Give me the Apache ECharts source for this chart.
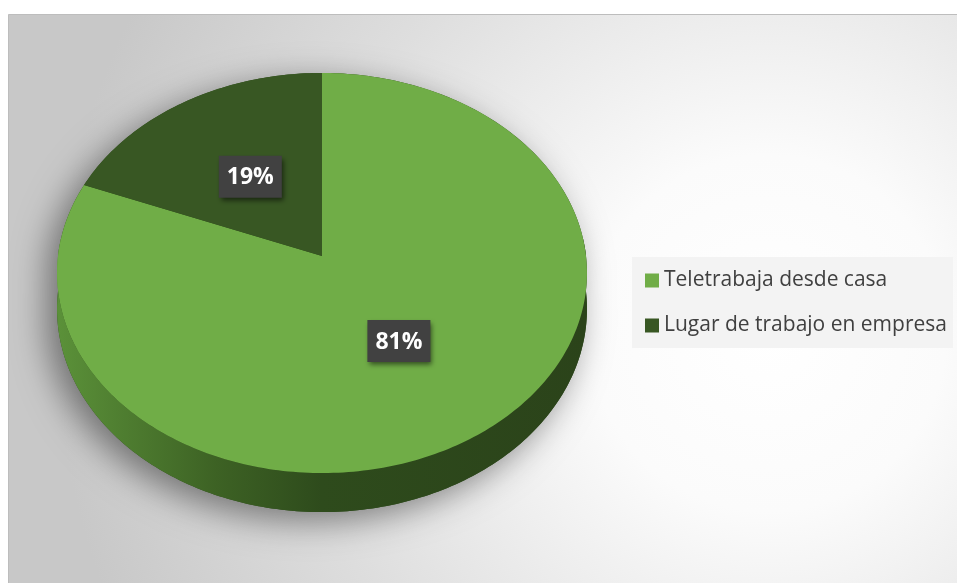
<!DOCTYPE html>
<html>
<head>
<meta charset="utf-8">
<script src="https://cdn.jsdelivr.net/npm/echarts@6/dist/echarts.min.js"></script>
<style>html,body{margin:0;padding:0;background:#fff}#c{width:957px;height:583px}</style>
</head>
<body>
<div id="c"></div>
<script>
// ---- data ----
const categories = ['Teletrabaja desde casa', 'Lugar de trabajo en empresa'];
const values = [81, 19];
const colors = ['#70AD47', '#385723'];

// ---- pseudo-3D projection ----
const CX = 322, CY = 256, RX = 264, RY = 198.6, PB = 0.085, DEPTH = 35.7;
const D2R = Math.PI / 180;
function proj(r, deg, h) {
  const phi = deg * D2R;
  const u = r * Math.cos(phi), v = r * Math.sin(phi);
  const d = 1 + PB * v;
  return [CX + RX * u / d, CY + (-RY * v + (h || 0)) / d];
}
function arc(a0, a1, h) {
  const pts = [];
  const n = Math.max(2, Math.ceil(Math.abs(a1 - a0)));
  for (let k = 0; k <= n; k++) pts.push(proj(1, a0 + (a1 - a0) * k / n, h));
  return pts;
}
const total = values.reduce((s, v) => s + v, 0);
function sliceRange(i) {
  let cum = 0;
  for (let k = 0; k < i; k++) cum += values[k];
  const start = 90 - 360 * cum / total;
  const end = start - 360 * values[i] / total;
  return [end, start];
}

function makeRender(i) {
  return function (params, api) {
    const val = api.value(0);
    const [lo, hi] = sliceRange(i);
    const children = [];
    // shadow silhouette (drawn once, by first series)
    if (i === 0) {
      const sil = arc(-180, 0, DEPTH).concat(arc(0, 180, 0));
      children.push({
        type: 'polygon', z2: 0, shape: { points: sil },
        style: { fill: '#2e4b1c', shadowBlur: 34, shadowColor: 'rgba(0,0,0,0.45)', shadowOffsetX: -10, shadowOffsetY: 9 }
      });
    }
    // side wall (front half)
    for (const off of [0, -360, 360]) {
      const a = Math.max(lo + off, -185), b = Math.min(hi + off, 5);
      if (b > a) {
        const pts = arc(b, a, 0).concat(arc(a, b, DEPTH));
        children.push({
          type: 'polygon', z2: 5, shape: { points: pts },
          style: {
            fill: {
              type: 'linear', x: 0, y: 0, x2: 1, y2: 0,
              colorStops: [
                { offset: 0, color: '#5b9139' },
                { offset: 0.3, color: '#3d6224' },
                { offset: 0.5, color: '#2e4b1c' },
                { offset: 1, color: '#2b431a' }
              ]
            }
          }
        });
      }
    }
    // top face
    const top = [proj(0, 0, 0)].concat(arc(hi, lo, 0));
    children.push({
      type: 'polygon', z2: 10, shape: { points: top },
      style: { fill: colors[i] }
    });
    // label
    const mid = (lo + hi) / 2;
    const p = proj(0.5, mid, 0);
    const w = 63, h = 42;
    children.push({
      type: 'rect', z2: 20,
      shape: { x: p[0] - w / 2, y: p[1] - h / 2, width: w, height: h },
      style: { fill: '#414141', shadowBlur: 5, shadowColor: 'rgba(0,0,0,0.55)', shadowOffsetX: 2, shadowOffsetY: 3 }
    });
    children.push({
      type: 'text', z2: 21,
      style: {
        text: Math.round(val / total * 100) + '%',
        x: p[0], y: p[1] + 1,
        fill: '#ffffff', font: 'bold 23px "Open Sans"',
        textAlign: 'center', textVerticalAlign: 'middle'
      }
    });
    return { type: 'group', children };
  };
}

const chart = echarts.init(document.getElementById('c'));
chart.setOption({
  animation: false,
  graphic: [{
    type: 'rect', z: -10, silent: true,
    shape: { x: 8.5, y: 14.5, width: 949, height: 569 },
    style: {
      fill: {
        type: 'radial', x: 0.8, y: 0.56, r: 1.25,
        colorStops: [
          { offset: 0, color: '#ffffff' },
          { offset: 0.25, color: '#fbfbfb' },
          { offset: 0.65, color: '#dedede' },
          { offset: 1, color: '#c8c8c8' }
        ]
      },
      stroke: '#bdbdbd', lineWidth: 1
    }
  }],
  legend: {
    orient: 'vertical',
    left: 632, top: 257,
    data: categories,
    icon: 'rect',
    itemWidth: 14, itemHeight: 14,
    itemGap: 24,
    padding: [13, 6, 12, 13],
    backgroundColor: '#f3f3f3',
    textStyle: { fontFamily: 'Open Sans', fontSize: 21, color: '#404040' }
  },
  series: categories.map((name, i) => ({
    type: 'custom',
    name: name,
    coordinateSystem: 'none',
    itemStyle: { color: colors[i] },
    data: [values[i]],
    renderItem: makeRender(i)
  }))
});
</script>
</body>
</html>
